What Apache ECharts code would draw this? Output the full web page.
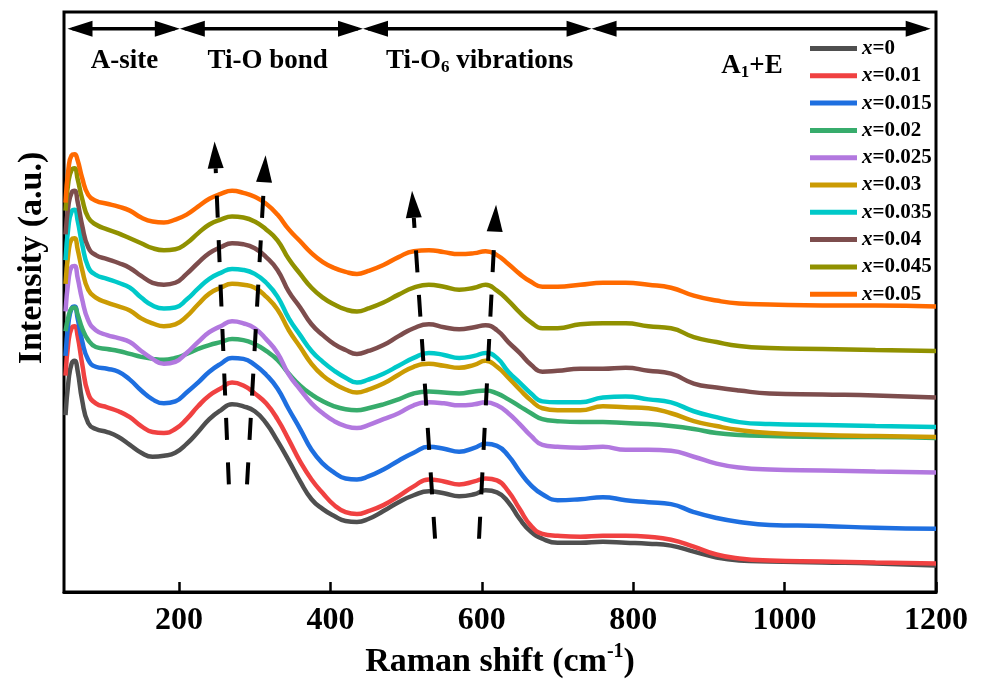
<!DOCTYPE html>
<html><head><meta charset="utf-8">
<script src="https://cdn.jsdelivr.net/npm/echarts@6/dist/echarts.min.js"></script>
<style>html,body{margin:0;padding:0;background:#fff}#c{width:982px;height:684px}</style>
</head><body><div id="c"></div>
<script>
// Raman shift (cm-1) sample positions
const ramanShift = [50,54,58,62,66,72,80,90,105,120,135,150,165,180,195,210,225,240,255,270,285,300,315,330,345,360,375,390,405,420,435,450,470,490,510,530,550,570,590,605,620,635,650,665,680,700,730,760,790,820,850,880,910,940,980,1050,1120,1200];
// Intensities (a.u., stacked offsets as in the figure)
const int_x0    = [179,214,231,234,224,194,171,165,162,157,149,141,137,138,141,150,162,175,184,190,188,183,171,153,133,112,94,84,77,72,71,74,82,91,98,102,100,97,99,103,101,91,74,61,54,50,50,51,50,49,47,41,35,32,31,30,29,27];
const int_x001  = [219,254,267,269,259,231,201,191,187,183,177,168,162,161,165,175,188,199,206,212,209,201,191,175,154,132,114,100,88,81,79,82,88,97,107,114,112,109,112,115,113,102,84,67,59,57,56,57,57,56,53,46,38,34,32,31,30,29];
const int_x0015 = [239,273,287,289,277,254,235,228,226,223,215,204,195,191,193,202,212,223,231,237,236,230,220,206,185,165,144,130,121,115,114,117,124,133,141,147,145,142,146,150,148,138,122,108,99,93,94,96,93,91,89,81,75,71,68,67,65,64];
const int_x002  = [264,279,287,288,281,267,255,248,246,244,241,238,236,235,237,241,246,250,253,256,255,251,244,235,221,209,200,193,188,185,184,186,190,195,201,203,202,201,203,204,201,195,188,181,175,173,172,172,171,170,168,165,161,159,158,157,157,156];
const int_x0025 = [284,316,329,330,318,296,275,265,260,257,253,244,236,231,233,242,253,263,269,274,272,267,256,242,220,205,191,181,173,168,166,169,175,181,189,192,191,189,190,192,189,181,170,158,149,147,146,147,144,144,143,137,130,126,124,123,122,121];
const int_x003  = [312,344,357,358,347,326,306,298,293,289,285,277,272,269,271,279,291,302,308,312,311,308,299,286,265,248,231,219,211,205,202,205,211,220,228,231,229,227,230,234,228,217,205,194,186,184,184,188,187,186,181,173,168,164,161,159,158,157];
const int_x0035 = [336,371,385,387,376,352,329,321,317,313,308,298,290,287,288,296,307,317,323,327,326,322,313,299,277,260,244,233,224,217,212,215,221,229,237,242,240,237,239,242,237,223,212,201,193,192,192,197,198,195,192,183,177,172,170,169,168,167];
const int_x004  = [362,392,404,406,395,371,349,341,337,333,328,320,313,311,313,322,333,343,349,353,352,348,339,326,304,288,271,260,251,245,241,244,250,259,267,271,268,266,268,270,265,253,242,230,223,224,226,226,227,224,221,211,207,204,201,200,199,197];
const int_x0045 = [386,416,427,429,418,398,379,372,367,363,358,353,348,346,347,353,363,372,377,380,379,375,367,356,337,322,308,298,291,286,284,287,293,301,308,311,309,306,308,311,305,295,283,273,267,267,271,272,272,269,267,258,253,249,247,246,245,244];
const int_x005  = [394,429,442,443,437,419,402,396,393,390,386,379,375,374,377,382,390,398,403,406,404,400,393,382,367,355,343,334,328,324,322,325,331,339,345,346,344,342,343,345,341,332,322,314,309,309,311,313,313,311,308,300,295,292,291,290,290,289];

const seriesNames  = ['x=0','x=0.01','x=0.015','x=0.02','x=0.025','x=0.03','x=0.035','x=0.04','x=0.045','x=0.05'];
const seriesValues = [int_x0,int_x001,int_x0015,int_x002,int_x0025,int_x003,int_x0035,int_x004,int_x0045,int_x005];
const seriesColors = ['#4f4f4f','#f04141','#1e6fe0','#37ac6c','#b278df','#cb9b03','#00c9c9','#7d4d4d','#909100','#ff6a00'];
const xTicks = [200,400,600,800,1000,1200];

// Annotation content (in data coordinates)
const regionBounds = [52.6, 201, 443, 745, 1193];
const regionArrowY = 570;
const regionLabels = ['{t|A-site}', '{t|Ti-O bond}', '{t|Ti-O}{sub|6}{t| vibrations}', '{t|A}{sub|1}{t|+E}'];
const regionLabelX = [128, 317, 597, 957];
const regionLabelY = [537, 537, 537, 532];
const shiftArrowFrom = [[265.8,109],[289.8,109],[538.2,54],[596.3,54]];
const shiftArrowTo   = [[246.9,456],[314.3,442],[507.8,406],[618.8,392]];

const FONT = '"Liberation Serif","Times New Roman",serif';
const chart = echarts.init(document.getElementById('c'));

const series = seriesNames.map((n, i) => ({
  name: n, type: 'line', showSymbol: false, smooth: 0.5,
  data: ramanShift.map((x, j) => [x, seriesValues[i][j]]),
  lineStyle: { width: 4.5, color: seriesColors[i] },
  itemStyle: { color: seriesColors[i] },
  emphasis: { disabled: true }, animation: false, z: 2 + i
}));

const option = {
  animation: false,
  backgroundColor: '#fff',
  grid: { left: 64, right: 46, top: 12, bottom: 85, show: true, borderColor: '#000', borderWidth: 3, backgroundColor: 'transparent' },
  legend: {
    orient: 'vertical', left: 805, top: 33, itemWidth: 47, itemHeight: 5, itemGap: 6.3, icon: 'rect',
    data: seriesNames,
    formatter: n => '{i|x}{b|' + n.slice(1) + '}',
    textStyle: { color: '#000', rich: {
      i: { fontFamily: FONT, fontStyle: 'italic', fontWeight: 'bold', fontSize: 21, lineHeight: 22, color: '#000' },
      b: { fontFamily: FONT, fontWeight: 'bold', fontSize: 21, lineHeight: 22, color: '#000' } } }
  },
  xAxis: {
    type: 'value', min: 48, max: 1200,
    name: '{n|Raman shift (cm}{s|-1}{n|)}', nameLocation: 'middle', nameGap: 45,
    nameTextStyle: { rich: {
      n: { fontFamily: FONT, fontWeight: 'bold', fontSize: 34, lineHeight: 40, color: '#000' },
      s: { fontFamily: FONT, fontWeight: 'bold', fontSize: 20, lineHeight: 20, verticalAlign: 'top', color: '#000' } } },
    axisLine: { show: true, lineStyle: { color: '#000', width: 3 } },
    axisTick: { show: true, inside: true, length: 10, lineStyle: { color: '#000', width: 2.5 }, customValues: xTicks },
    axisLabel: { fontFamily: FONT, fontWeight: 'bold', fontSize: 32, color: '#000', margin: 13, customValues: xTicks, formatter: v => String(v) },
    splitLine: { show: false }
  },
  yAxis: {
    type: 'value', min: 0, max: 587,
    name: 'Intensity (a.u.)', nameLocation: 'middle', nameGap: 15,
    nameTextStyle: { fontFamily: FONT, fontWeight: 'bold', fontSize: 34, color: '#000', padding: [0, 0, 0, 88] },
    axisLine: { show: false }, axisTick: { show: false }, axisLabel: { show: false }, splitLine: { show: false }
  },
  series
};
chart.setOption(option);

function toPx(p) { return chart.convertToPixel({ xAxisIndex: 0, yAxisIndex: 0 }, p); }
const graphics = [];
// region arrows on top
for (let i = 0; i < regionBounds.length - 1; i++) {
  const a = toPx([regionBounds[i], regionArrowY]);
  const b = toPx([regionBounds[i + 1], regionArrowY]);
  const y = a[1], hl = 25, hw = 8;
  graphics.push({ type: 'line', z: 100, shape: { x1: a[0] + 5, y1: y, x2: b[0] - 5, y2: y }, style: { stroke: '#000', lineWidth: 3.5 } });
  graphics.push({ type: 'polygon', z: 100, shape: { points: [[a[0], y], [a[0] + hl, y - hw], [a[0] + hl, y + hw]] }, style: { fill: '#000' } });
  graphics.push({ type: 'polygon', z: 100, shape: { points: [[b[0], y], [b[0] - hl, y - hw], [b[0] - hl, y + hw]] }, style: { fill: '#000' } });
}
// region labels
const labelRich = {
  t: { fontFamily: FONT, fontWeight: 'bold', fontSize: 27, lineHeight: 30, fill: '#000' },
  sub: { fontFamily: FONT, fontWeight: 'bold', fontSize: 17, lineHeight: 18, verticalAlign: 'bottom', fill: '#000' }
};
regionLabels.forEach((t, i) => {
  const p = toPx([regionLabelX[i], regionLabelY[i]]);
  graphics.push({ type: 'text', z: 100, x: p[0], y: p[1], style: { text: t, rich: labelRich, align: 'center', verticalAlign: 'middle', fill: '#000' } });
});
// dashed shift arrows
shiftArrowFrom.forEach((f, i) => {
  const B = toPx(f), T = toPx(shiftArrowTo[i]);
  const dx = T[0] - B[0], dy = T[1] - B[1], L = Math.hypot(dx, dy);
  const ux = dx / L, uy = dy / L, nx = -uy, ny = ux, hl = 27, hw = 8;
  const bx = T[0] - ux * hl, by = T[1] - uy * hl;
  graphics.push({ type: 'line', z: 100, shape: { x1: B[0], y1: B[1], x2: bx, y2: by }, style: { stroke: '#000', lineWidth: 4, lineDash: [22, 22.5] } });
  graphics.push({ type: 'polygon', z: 100, shape: { points: [[T[0], T[1]], [bx + nx * hw, by + ny * hw], [bx - nx * hw, by - ny * hw]] }, style: { fill: '#000' } });
});
chart.setOption({ graphic: graphics });
</script></body></html>
